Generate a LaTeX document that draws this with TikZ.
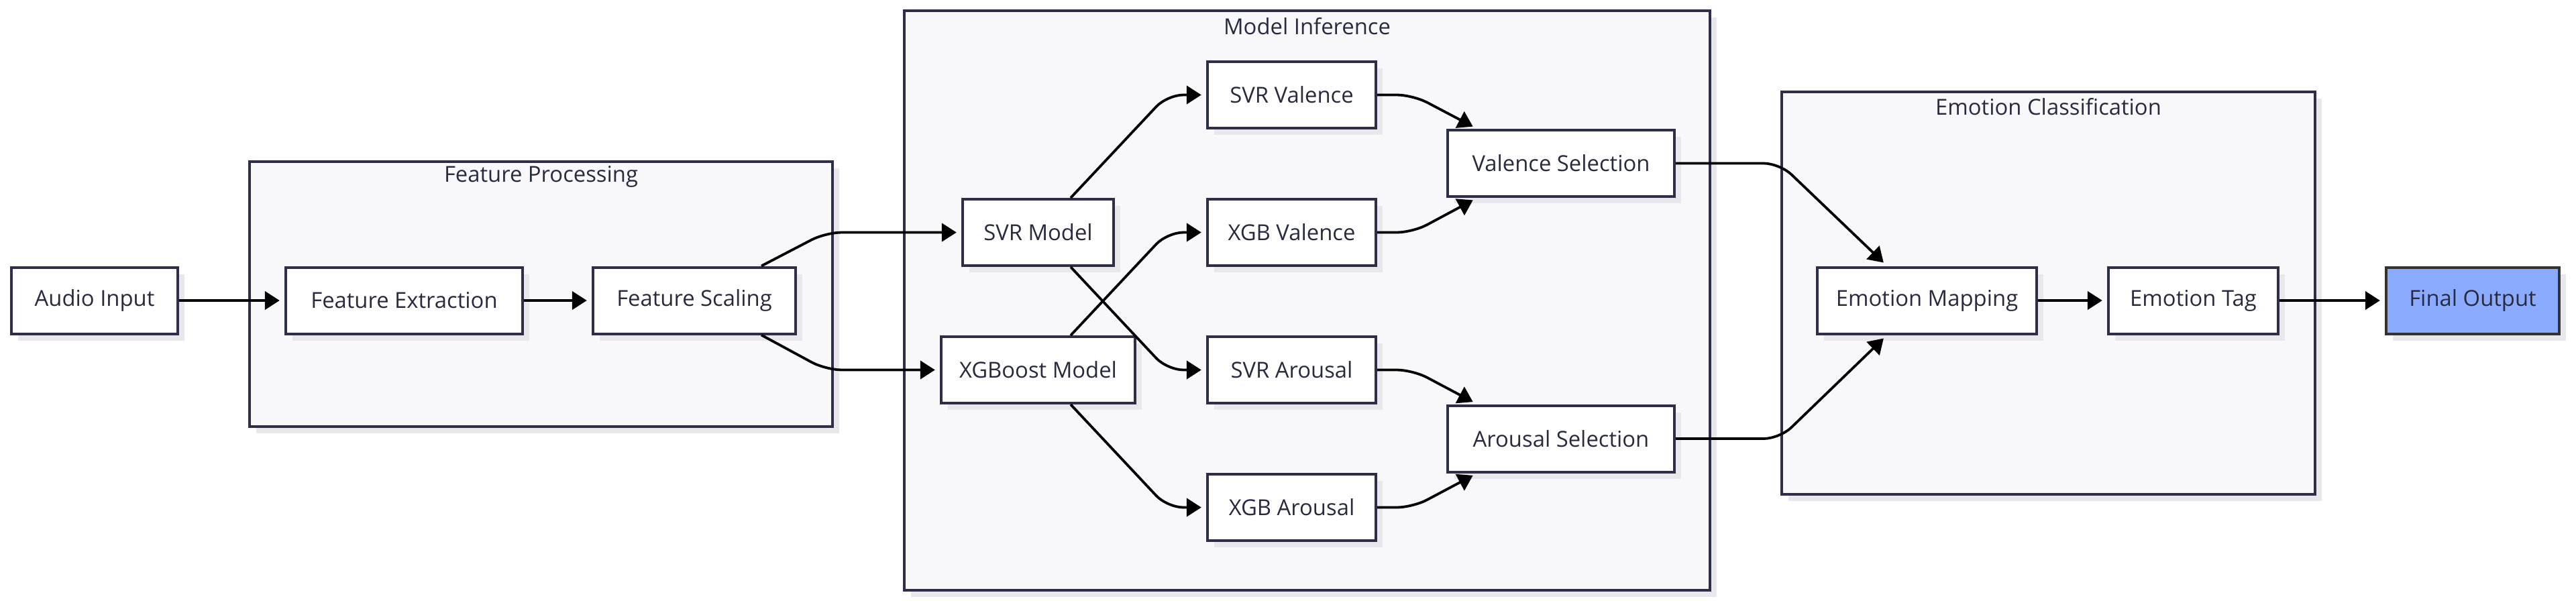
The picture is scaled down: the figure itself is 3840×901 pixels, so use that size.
\documentclass[tikz,border=0pt]{standalone}
\usepackage{fontspec}
\setmainfont{Open Sans}
\usetikzlibrary{arrows.meta,calc,shadows}
\definecolor{bordc}{HTML}{2E2E48}
\definecolor{txtc}{HTML}{2A2A3E}
\definecolor{clfill}{HTML}{F8F8FA}
\definecolor{shadowc}{HTML}{E8E8EC}
\definecolor{outfill}{HTML}{8AABFF}
\begin{document}
\begin{tikzpicture}[x=0.25pt,y=-0.25pt,
  shad/.style={drop shadow={shadow xshift=2.5pt,shadow yshift=-2.5pt,fill=shadowc,opacity=1}},
  box/.style={shad,draw=bordc,line width=1pt,fill=white,text=txtc,
    font=\fontsize{8.2}{9.5}\selectfont,inner sep=0pt,minimum height=24.75pt},
  bw/.style={minimum width={#1*0.25pt}},
  outbox/.style={box,fill=outfill,draw=black!80},
  cluster/.style={shad,draw=bordc,line width=1pt,fill=clfill},
  ctitle/.style={text=txtc,font=\fontsize{8.2}{9.5}\selectfont,inner sep=0pt},
  edge/.style={draw=black,line width=0.95pt,rounded corners=6pt,
    -{Triangle[length=5.5pt,width=6.8pt]},shorten >=1.8pt}
]
\fill[white] (0,0) rectangle (3840,901);
\useasboundingbox (0,0) rectangle (3840,901);

% clusters
\draw[cluster] (372,241) rectangle (1241,636);
\draw[cluster] (1348,16) rectangle (2549,880);
\draw[cluster] (2656,137) rectangle (3451,737);
\node[ctitle] (tfp) at (806.5,263) {Feature Processing};
\node[ctitle] (tmi) at (1948.5,39) {Model Inference};
\node[ctitle] (tec) at (3053.5,159) {Emotion Classification};

% nodes
\node[box,bw=248] (ai) at (141,448) {Audio Input};
\node[box,bw=353] (fe) at (602.5,448) {Feature Extraction};
\node[box,bw=302] (fsc) at (1035,448) {Feature Scaling};
\node[box,bw=225] (svm) at (1547.5,346.5) {SVR Model};
\node[box,bw=289] (xgm) at (1547.5,551.5) {XGBoost Model};
\node[box,bw=251] (sv) at (1925.5,141.5) {SVR Valence};
\node[box,bw=251] (xv) at (1925.5,346.5) {XGB Valence};
\node[box,bw=251] (sa) at (1925.5,551.5) {SVR Arousal};
\node[box,bw=251] (xa) at (1925.5,756.5) {XGB Arousal};
\node[box,bw=338] (vs) at (2327,243.5) {Valence Selection};
\node[box,bw=338] (as) at (2327,654) {Arousal Selection};
\node[box,bw=327] (em) at (2872.5,448) {Emotion Mapping};
\node[box,bw=253] (et) at (3269.5,448) {Emotion Tag};
\node[outbox,bw=258] (fo) at (3686,448) {Final Output};

% edges
\draw[edge] (ai) -- (fe);
\draw[edge] (fe) -- (fsc);
\draw[edge] ($(fsc.north)+(100,0)$) -- ($(svm.west)+(-202,0)$) -- (svm.west);
\draw[edge] ($(fsc.south)+(100,0)$) -- ($(xgm.west)+(-170,0)$) -- (xgm.west);
\draw[edge] ($(svm.north)+(48.5,0)$) -- ($(sv.west)+(-58,0)$) -- (sv.west);
\draw[edge] ($(svm.south)+(48.5,0)$) -- ($(sa.west)+(-58,0)$) -- (sa.west);
\draw[edge] ($(xgm.north)+(48.5,0)$) -- ($(xv.west)+(-58,0)$) -- (xv.west);
\draw[edge] ($(xgm.south)+(48.5,0)$) -- ($(xa.west)+(-58,0)$) -- (xa.west);
\draw[edge] (sv.east) -- ++(53,0) -- ($(vs.north west)+(46,0)$);
\draw[edge] (xv.east) -- ++(53,0) -- ($(vs.south west)+(46,0)$);
\draw[edge] (sa.east) -- ++(53,0) -- ($(as.north west)+(46,0)$);
\draw[edge] (xa.east) -- ++(53,0) -- ($(as.south west)+(46,0)$);
\draw[edge] (vs.east) -- ++(155,0) -- ($(em.north west)+(106,0)$);
\draw[edge] (as.east) -- ++(155,0) -- ($(em.south west)+(106,0)$);
\draw[edge] (em) -- (et);
\draw[edge] (et) -- (fo);
\end{tikzpicture}
\end{document}
